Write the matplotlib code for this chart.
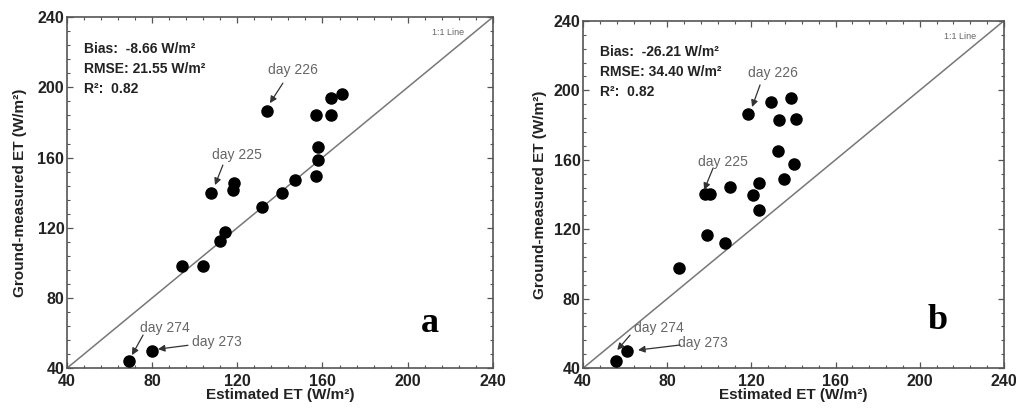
import matplotlib
matplotlib.use("Agg")
import matplotlib.pyplot as plt
from matplotlib.ticker import MultipleLocator

plt.rcParams['font.family'] = ['Liberation Sans', 'DejaVu Sans']

# Panel a: estimated vs ground-measured ET
est_a = [69, 80, 94, 104, 112, 114, 107.5, 118, 118.6, 131.5, 141, 147, 157, 158, 158, 157, 164, 164, 169, 134]
gnd_a = [44, 50, 98, 98, 112.6, 117.5, 140, 141.6, 145.4, 131.7, 140, 147, 149.6, 158.5, 166, 184, 184.2, 194, 196.5, 186.6]

# Panel b
est_b = [55.5, 60.8, 85.6, 99.0, 107.4, 97.8, 100.2, 109.6, 120.8, 123.5, 123.5, 135.7, 140.3, 132.6, 118.3, 129.5, 133.3, 138.7, 141.0]
gnd_b = [44.0, 49.6, 97.6, 116.8, 111.9, 140.5, 140.5, 144.3, 139.9, 146.8, 131.3, 148.9, 157.8, 165.1, 186.2, 193.1, 182.9, 195.8, 183.3]

stats_a = ["Bias:  -8.66 W/m\u00b2", "RMSE: 21.55 W/m\u00b2", "R\u00b2:  0.82"]
stats_b = ["Bias:  -26.21 W/m\u00b2", "RMSE: 34.40 W/m\u00b2", "R\u00b2:  0.82"]

ticks = [40, 80, 120, 160, 200, 240]

# annotations: (label, text xy, arrow tail, arrow head)
ann_a = [("day 226", (146.1, 209.8), (141.4, 202.4), (135.3, 191.0)),
         ("day 225", (119.8, 161.4), (113.2, 155.7), (109.5, 144.3)),
         ("day 274", (86.0, 62.8), (75.7, 58.8), (70.5, 47.4)),
         ("day 273", (110.4, 54.8), (96.8, 53.0), (82.7, 50.8))]
ann_b = [("day 226", (130.3, 210.0), (124.1, 203.1), (120.3, 190.4)),
         ("day 225", (106.5, 158.7), (101.8, 155.3), (97.5, 142.6)),
         ("day 274", (76.1, 63.0), (62.3, 59.0), (56.2, 50.4)),
         ("day 273", (97.0, 54.4), (86.1, 53.3), (66.1, 50.4))]

fig = plt.figure(figsize=(10.16, 4.09), dpi=100)
ax_a = fig.add_axes([0.066, 0.100, 0.419, 0.858])
ax_b = fig.add_axes([0.574, 0.100, 0.414, 0.849])

panels = [(ax_a, est_a, gnd_a, stats_a, ann_a, "a", (210.4, 65.6), -0.094),
          (ax_b, est_b, gnd_b, stats_b, ann_b, "b", (208.6, 67.7), -0.086)]

for ax, ex, gy, stats, anns, letter, lpos, ylx in panels:
    ax.plot(ticks[::len(ticks)-1], ticks[::len(ticks)-1], color='#777777', lw=1.1, zorder=1)
    ax.plot(ex, gy, 'o', color='black', markersize=8, zorder=3)
    ax.set_xlim(40, 240)
    ax.set_ylim(40, 240)
    ax.set_xticks(ticks)
    ax.set_yticks(ticks)
    ax.xaxis.set_minor_locator(MultipleLocator(8))
    ax.yaxis.set_minor_locator(MultipleLocator(8))
    ax.tick_params(which='both', direction='in', top=True, right=True, color='#555555')
    ax.tick_params(which='major', length=4, width=0.9)
    ax.tick_params(which='minor', length=2.5, width=0.8)
    ax.tick_params(axis='x', which='major', pad=4)
    ax.tick_params(axis='y', which='major', pad=2)
    for lab in ax.get_xticklabels() + ax.get_yticklabels():
        lab.set_fontsize(11.5)
        lab.set_fontweight('bold')
        lab.set_color('#222222')
    for sp in ax.spines.values():
        sp.set_color('#555555')
        sp.set_linewidth(1.2)
    ax.set_xlabel("Estimated ET (W/m\u00b2)", fontsize=11, fontweight='bold', color='#222222')
    ax.set_ylabel("Ground-measured ET (W/m\u00b2)", fontsize=11, fontweight='bold', color='#222222')
    ax.xaxis.set_label_coords(0.5, -0.058)
    ax.yaxis.set_label_coords(ylx, 0.5)
    for i, s in enumerate(stats):
        ax.text(0.040, 0.910 - i * 0.057, s, transform=ax.transAxes, fontsize=10,
                fontweight='bold', color='#222222', ha='left', va='center')
    ax.text(0.895, 0.955, "1:1 Line", transform=ax.transAxes, fontsize=6.5,
            color='#666666', ha='center', va='center')
    for label, txy, tail, head in anns:
        ax.text(txy[0], txy[1], label, fontsize=10, color='#666666', ha='center', va='center')
        ax.annotate("", xy=head, xytext=tail,
                    arrowprops=dict(arrowstyle='-|>', color='#333333', lw=0.9,
                                    mutation_scale=10, shrinkA=0, shrinkB=0))
    ax.text(lpos[0], lpos[1], letter, fontsize=26, fontweight='bold',
            family='Liberation Serif', ha='center', va='center', color='black')

fig.savefig("out.png", dpi=100)
